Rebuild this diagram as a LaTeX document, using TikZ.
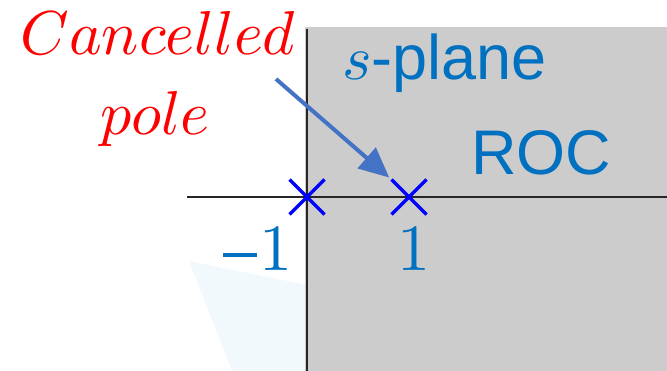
\documentclass[tikz,border=0pt]{standalone}
\usepackage[no-math]{fontspec}
\newfontfamily\arialf{Liberation Sans}
\usetikzlibrary{arrows.meta,shapes.misc}
\definecolor{roc}{HTML}{CCCCCC}
\definecolor{txtblue}{HTML}{0070C0}
\definecolor{arrblue}{HTML}{4472C4}
\definecolor{faint}{HTML}{F2F9FC}
\tikzset{
  axis/.style={line width=1.6pt, black!85},
  polex/.style={cross out, draw=blue, line width=3.5pt, minimum size=35pt, inner sep=0pt, outer sep=0pt},
  lbl/.style={inner sep=0pt, anchor=base},
  pointer/.style={arrblue, line width=4pt, -{Triangle[length=30pt,width=27pt]}, shorten >=3pt}
}
\begin{document}
\begin{tikzpicture}[x=1pt,y=-1pt]
\useasboundingbox (0,0) rectangle (667,371);
% faint watermark shape
\fill[faint] (189,261) -- (307,285) -- (307,371) -- (232,371) -- cycle;
% ROC region
\fill[roc] (305,27) rectangle (667,371);
% axes
\coordinate (xl) at (187,197);
\coordinate (xr) at (667,197);
\coordinate (yt) at (307,29);
\coordinate (yb) at (307,371);
\draw[axis] (xl) -- (xr);
\draw[axis] (yt) -- (yb);
% poles
\node[polex] (pm) at (307,197) {};
\node[polex] (pp) at (409,197) {};
% labels
\node[lbl, text=red] (canc) at (158,55) {\scalebox{6.2}{$Cancelled$}};
\node[lbl, text=red] (pole) at (155,135) {\scalebox{6.2}{$pole$}};
\node[lbl, anchor=base west, text=txtblue] (splane) at (342,80) {\scalebox{6.3}{$s$\arialf -plane}};
\node[lbl, text=txtblue] (roclbl) at (541,175) {\scalebox{6.3}{\arialf ROC}};
\node[lbl, anchor=base west, text=txtblue] (lm1) at (223,271) {\scalebox{6.6}{\rule[2.17pt]{5.15pt}{0.6pt}\kern0.3pt$1$}};
\node[lbl, text=txtblue] (lp1) at (414,271) {\scalebox{6.6}{$1$}};
% pointer
\coordinate (ps) at (276,79);
\draw[pointer] (ps) -- (pp.north west);
\end{tikzpicture}
\end{document}
